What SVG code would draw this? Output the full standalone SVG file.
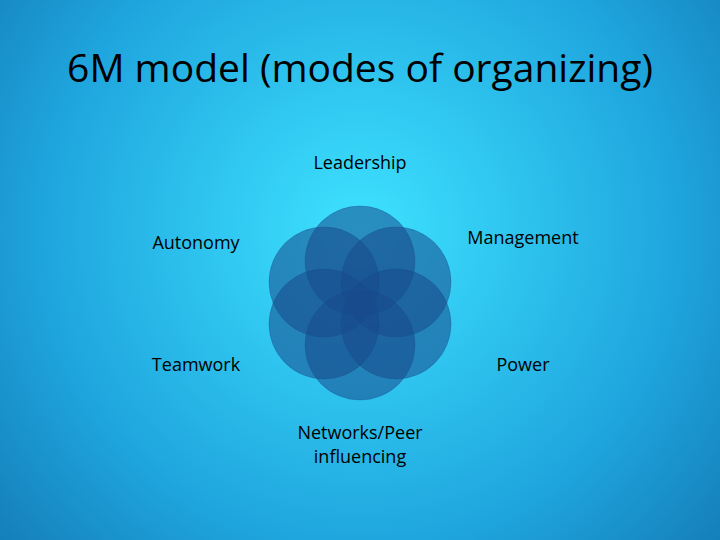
<svg xmlns="http://www.w3.org/2000/svg" width="720" height="540" viewBox="0 0 720 540">
<defs>
<radialGradient id="bg" cx="360" cy="230" r="520" gradientUnits="userSpaceOnUse">
<stop offset="0" stop-color="#3ee2ff"/>
<stop offset="0.6" stop-color="#1fa6de"/>
<stop offset="1" stop-color="#1274b0"/>
</radialGradient>
<style>
.c{fill:#184a8c;fill-opacity:0.55;stroke:#184a8c;stroke-opacity:0.3}
.t{font-family:"Open Sans","Liberation Sans",sans-serif;fill:#000;font-size:18px;text-anchor:middle}
</style>
</defs>
<rect width="720" height="540" fill="url(#bg)"/>
<text x="360" y="82" class="t" style="font-size:39px">6M model (modes of organizing)</text>
<g id="circles">
<circle class="c" cx="360" cy="261" r="55"/>
<circle class="c" cx="396" cy="282" r="55"/>
<circle class="c" cx="396" cy="324" r="55"/>
<circle class="c" cx="360" cy="345" r="55"/>
<circle class="c" cx="324" cy="324" r="55"/>
<circle class="c" cx="324" cy="282" r="55"/>
</g>
<g id="leadership"><text x="360" y="169" class="t">Leadership</text></g>
<g id="management"><text x="523" y="244" class="t">Management</text></g>
<g id="autonomy"><text x="196" y="249" class="t">Autonomy</text></g>
<g id="teamwork"><text x="196" y="371" class="t">Teamwork</text></g>
<g id="power"><text x="523" y="371" class="t">Power</text></g>
<g id="networks"><text x="360" y="439" class="t">Networks/Peer</text><text x="360" y="463" class="t">influencing</text></g>
<g id="connectors"/>
</svg>
